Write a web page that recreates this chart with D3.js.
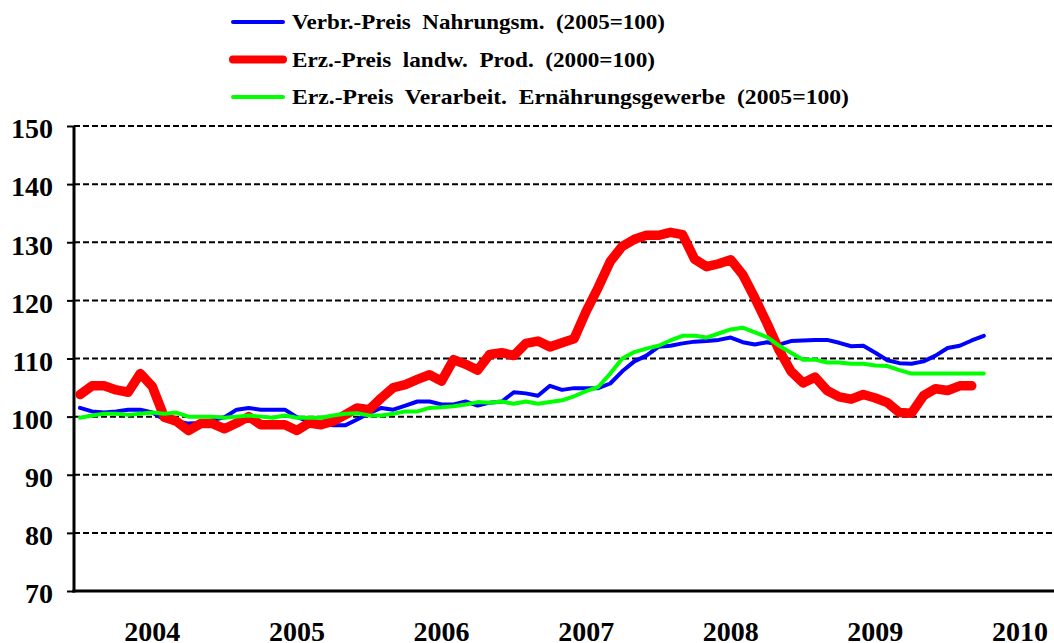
<!DOCTYPE html>
<html lang="de">
<head>
  <meta charset="utf-8">
  <title>Preisindizes Nahrungsmittel</title>
  <script src="https://d3js.org/d3.v7.min.js"></script>
  <style>
    body {
      margin: 0;
      background: #fff;
    }
    svg text {
      font-family: "Liberation Serif", "Times New Roman", serif;
      font-weight: bold;
    }
  </style>
</head>
<body>
  <script>
    // monthly values, Jan 2004 = index 0
    var verbrPreis = [
      101.5, 100.9, 100.7, 100.9, 101.2, 101.2, 100.7, 99.5, 99.2, 98.8, 98.9, 99.4, 99.9, 101.2, 101.5, 101.2,
      101.2, 101.2, 99.9, 99.2, 98.9, 98.5, 98.5, 99.5, 100.6, 101.5, 101.2, 101.9, 102.6, 102.6,
      102.1, 102.1, 102.6, 101.9, 102.4, 102.6, 104.2, 104, 103.6, 105.3, 104.6, 104.9, 104.9, 104.9, 105.7, 107.8,
      109.5, 110.5, 112, 112.2, 112.6, 112.9, 113, 113.2, 113.6, 112.8, 112.4, 112.8, 112.4, 113, 113.1,
      113.2, 113.2, 112.7, 112.1, 112.2, 111, 109.7, 109.2, 109.1, 109.5, 110.5, 111.8, 112.2, 113.1, 113.9
    ];
    var erzLandw = [
      103.8, 105.3, 105.3, 104.6, 104.2, 107.4, 105.2, 99.9, 99.2, 97.6, 98.8, 98.8, 97.9, 98.9, 100, 98.6,
      98.6, 98.6, 97.6, 98.9, 98.6, 99.2, 100.3, 101.5, 101.2, 103.2, 105, 105.5, 106.4, 107.2,
      106.1, 109.8, 109, 108, 110.7, 111, 110.5, 112.6, 113, 112, 112.7, 113.4, 118.1, 122.2, 126.7, 129.3,
      130.5, 131.2, 131.2, 131.7, 131.3, 127.1, 125.8, 126.3, 127, 124.4, 120.4, 116.1, 111.5, 107.8, 105.8,
      106.8, 104.5, 103.4, 103, 103.8, 103.2, 102.4, 100.7, 100.6, 103.6, 104.8, 104.5, 105.3, 105.3
    ];
    var erzVerarb = [
      99.8, 100.2, 100.5, 100.5, 100.3, 100.5, 100.7, 100.5, 100.7, 100, 100, 100, 99.8, 100, 100.2, 100,
      99.8, 100.2, 99.8, 99.8, 99.8, 100.2, 100.5, 100.6, 100.2, 100.2, 100.5, 100.9, 100.9, 101.5,
      101.6, 101.8, 102.1, 102.5, 102.4, 102.6, 102.2, 102.6, 102.2, 102.5, 102.8, 103.5, 104.4, 105.1, 107.4, 110,
      111.1, 111.7, 112.2, 113.1, 113.9, 113.9, 113.6, 114.3, 115, 115.3, 114.5, 113.7, 112.2, 111, 109.8,
      109.8, 109.3, 109.3, 109.1, 109.1, 108.8, 108.7, 108, 107.4, 107.4, 107.4, 107.4, 107.4, 107.4, 107.4
    ];
    var years = [2004, 2005, 2006, 2007, 2008, 2009, 2010];
    var yTicks = [70, 80, 90, 100, 110, 120, 130, 140, 150];
    var seriesNames = [
      "Verbr.-Preis  Nahrungsm.  (2005=100)",
      "Erz.-Preis  landw.  Prod.  (2000=100)",
      "Erz.-Preis  Verarbeit.  Ernährungsgewerbe  (2005=100)"
    ];

    var w = 1054, h = 643;
    var plotLeft = 74, plotRight = 1054, plotTop = 126, plotBottom = 591;

    var series = [
      { name: seriesNames[0], values: verbrPreis, color: "#0000ff", width: 4, legendW: 373 },
      { name: seriesNames[1], values: erzLandw, color: "#ff0000", width: 9.5, legendW: 363 },
      { name: seriesNames[2], values: erzVerarb, color: "#00ff00", width: 4, legendW: 557 }
    ];

    var svg = d3.select("body").append("svg")
      .attr("width", w)
      .attr("height", h);

    // month index -> x, about 12 px per month
    var xScale = d3.scaleLinear().domain([0, 75]).range([80, 983.8]);
    var yScale = d3.scaleLinear().domain([70, 150]).range([plotBottom, plotTop]);

    // dashed gridlines
    svg.append("g")
      .selectAll("line")
      .data(yTicks.filter(function (d) { return d > 70; }))
      .enter()
      .append("line")
      .attr("x1", plotLeft)
      .attr("x2", plotRight)
      .attr("y1", function (d) { return yScale(d); })
      .attr("y2", function (d) { return yScale(d); })
      .attr("stroke", "#000")
      .attr("stroke-width", 2)
      .style("stroke-dasharray", "6, 3");

    // y axis
    var yAxis = d3.axisLeft(yScale).tickValues(yTicks).tickSize(7).tickPadding(14);
    var gy = svg.append("g")
      .attr("transform", "translate(" + plotLeft + ",0)")
      .call(yAxis);
    gy.select(".domain").remove();
    gy.selectAll(".tick line").attr("stroke", "#000").attr("stroke-width", 2);
    gy.selectAll(".tick text")
      .attr("fill", "#000")
      .attr("dy", "0.42em")
      .style("font-size", "28px");

    svg.append("line")
      .attr("x1", plotLeft).attr("x2", plotLeft)
      .attr("y1", plotTop).attr("y2", plotBottom + 1.5)
      .attr("stroke", "#000").attr("stroke-width", 3);
    svg.append("line")
      .attr("x1", plotLeft - 1.5).attr("x2", plotRight)
      .attr("y1", plotBottom).attr("y2", plotBottom)
      .attr("stroke", "#000").attr("stroke-width", 3);

    // year labels sit at July of each year
    svg.append("g")
      .selectAll("text")
      .data(years)
      .enter()
      .append("text")
      .attr("x", function (d) { return xScale((d - 2004) * 12 + 6); })
      .attr("y", 641)
      .attr("text-anchor", "middle")
      .style("font-size", "28px")
      .text(function (d) { return d; });

    var line = d3.line()
      .x(function (d, i) { return xScale(i); })
      .y(function (d) { return yScale(d); });

    series.forEach(function (s) {
      svg.append("path")
        .datum(s.values)
        .attr("d", line)
        .attr("fill", "none")
        .attr("stroke", s.color)
        .attr("stroke-width", s.width)
        .attr("stroke-linejoin", "round")
        .attr("stroke-linecap", "round");
    });

    // legend
    var legend = svg.append("g");
    series.forEach(function (s, i) {
      var ly = 22 + i * 37.5;
      legend.append("line")
        .attr("x1", 233).attr("x2", 283)
        .attr("y1", ly).attr("y2", ly)
        .attr("stroke", s.color)
        .attr("stroke-width", i == 1 ? 8 : 4)
        .attr("stroke-linecap", "round");
      legend.append("text")
        .attr("x", 292)
        .attr("y", ly + 7)
        .attr("textLength", s.legendW)
        .attr("lengthAdjust", "spacingAndGlyphs")
        .style("font-size", "21px")
        .style("white-space", "pre")
        .text(s.name);
    });
  </script>
</body>
</html>
